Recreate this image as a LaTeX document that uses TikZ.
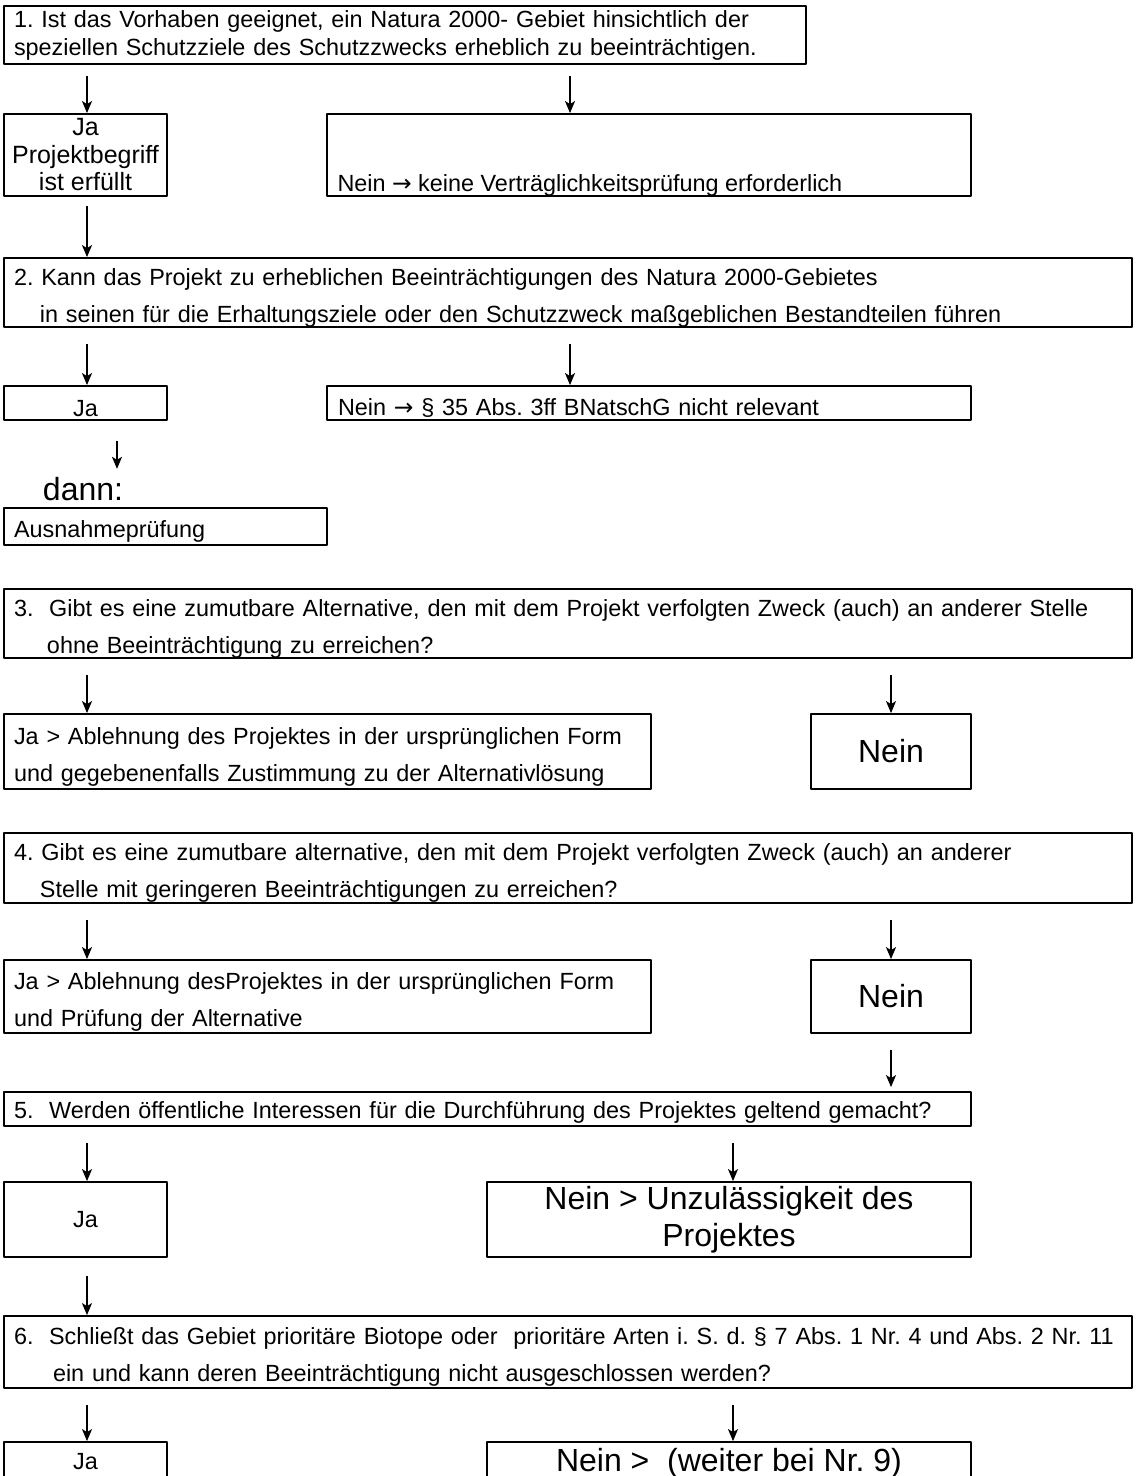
\documentclass[tikz,border=0pt]{standalone}
\usepackage{fontspec}
\setmainfont{Liberation Sans}
\newfontfamily\symfont{DejaVu Sans}
\usetikzlibrary{arrows.meta}
\newcommand{\pfeil}{{\symfont →}}
\newcommand{\oben}{\rule{0pt}{13.5pt}}
\frenchspacing
\begin{document}
\begin{tikzpicture}[>={Stealth[length=6pt,width=5pt,inset=1.5pt]}, x=0.5pt, y=-0.5pt, line join=round,
 font=\fontsize{11.7}{18.5}\selectfont,
 box/.style={draw, line width=0.9pt, inner sep=0pt, inner xsep=5pt},
 big/.style={font=\fontsize{16}{18.5}\selectfont},
 arr/.style={->, line width=0.8pt, shorten <=8pt}]
 \useasboundingbox (0,0) rectangle (1140,1476);
 \clip (0,0) rectangle (1140,1476);
 % x-Lagen der Pfeile
 \coordinate (xl) at (87,0);
 \coordinate (xr) at (570,0);
 \coordinate (xd) at (117,0);
 \coordinate (xm) at (733,0);
 % Frage 1
 \node[box, minimum width=401pt, minimum height=29pt, text width=391pt, align=left,
  font=\fontsize{11.7}{14}\selectfont] (q1) at (405,35)
  {1. Ist das Vorhaben geeignet, ein Natura 2000- Gebiet hinsichtlich der\\
   speziellen Schutzziele des Schutzzwecks erheblich zu beeinträchtigen.};
 \node[box, minimum width=81.5pt, minimum height=41pt, align=center, inner xsep=2pt,
  font=\fontsize{12.5}{13.75}\selectfont] (ja1) at (85.5,155) {Ja\\ Projektbegriff\\ ist erfüllt};
 \node[box, minimum width=322pt, minimum height=41pt] (nein1) at (649,155) {};
 \node[anchor=south west, inner sep=0pt, xshift=5.5pt] (nein1t) at (nein1.south west)
  {Nein \pfeil\ keine Verträglichkeitsprüfung erforderlich};
 % Frage 2
 \node[box, minimum width=564pt, minimum height=34.5pt, text width=554pt, align=left] (q2) at (568,292.5)
  {\oben 2. Kann das Projekt zu erheblichen Beeinträchtigungen des Natura 2000-Gebietes\\
   \hspace*{13pt}in seinen für die Erhaltungsziele oder den Schutzzweck maßgeblichen Bestandteilen führen};
 \node[box, minimum width=81.5pt, minimum height=17pt] (ja2) at (85.5,403) {\oben Ja};
 \node[box, minimum width=322pt, minimum height=17pt, text width=311pt, align=left,
  inner xsep=5.5pt] (nein2) at (649,403) {\oben Nein \pfeil\ § 35 Abs. 3ff BNatschG nicht relevant};
 \node[big, inner sep=0pt] (dann) at (83,489) {dann:};
 \node[box, minimum width=161.5pt, minimum height=18.5pt, text width=151.5pt, align=left] (ausn) at (165.5,526.5)
  {\oben Ausnahmeprüfung};
 % Frage 3
 \node[box, minimum width=564pt, minimum height=33.5pt, text width=554pt, align=left] (q3) at (568,623.5)
  {\oben\mbox{3.\ \ Gibt es eine zumutbare Alternative, den mit dem Projekt verfolgten Zweck (auch) an anderer Stelle}\\
   \hspace*{16.5pt}ohne Beeinträchtigung zu erreichen?};
 \node[box, minimum width=323.5pt, minimum height=37.5pt, text width=313.5pt, align=left] (ja3) at (327.5,751.5)
  {\oben Ja > Ablehnung des Projektes in der ursprünglichen Form\\
   und gegebenenfalls Zustimmung zu der Alternativlösung};
 \node[box, big, minimum width=80pt, minimum height=37.5pt] (nein3) at (891,751.5) {Nein};
 % Frage 4
 \node[box, minimum width=564pt, minimum height=35pt, text width=554pt, align=left] (q4) at (568,868)
  {\oben 4. Gibt es eine zumutbare alternative, den mit dem Projekt verfolgten Zweck (auch) an anderer\\
   \hspace*{13pt}Stelle mit geringeren Beeinträchtigungen zu erreichen?};
 \node[box, minimum width=323.5pt, minimum height=36.5pt, text width=313.5pt, align=left] (ja4) at (327.5,996.5)
  {\oben Ja > Ablehnung desProjektes in der ursprünglichen Form\\
   und Prüfung der Alternative};
 \node[box, big, minimum width=80pt, minimum height=36.5pt] (nein4) at (891,996.5) {Nein};
 % Frage 5
 \node[box, minimum width=483.5pt, minimum height=17pt, text width=473.5pt, align=left] (q5) at (487.5,1109)
  {\rule{0pt}{11.5pt}5.\ \ Werden öffentliche Interessen für die Durchführung des Projektes geltend gemacht?};
 \node[box, minimum width=81.5pt, minimum height=37.5pt] (ja5) at (85.5,1219.5) {Ja};
 \node[box, big, minimum width=242pt, minimum height=37.5pt, align=center] (nein5) at (729,1219.5)
  {Nein > Unzulässigkeit des\\ Projektes};
 % Frage 6
 \node[box, minimum width=564pt, minimum height=36pt, text width=554pt, align=left] (q6) at (568,1352)
  {\oben\mbox{6.\ \ Schließt das Gebiet prioritäre Biotope oder\ \ prioritäre Arten i. S. d. § 7 Abs. 1 Nr. 4 und Abs. 2 Nr. 11}\\
   \hspace*{19.5pt}ein und kann deren Beeinträchtigung nicht ausgeschlossen werden?};
 \node[box, minimum width=81.5pt, minimum height=20pt] (ja6) at (85.5,1462) {Ja};
 \node[box, big, minimum width=242pt, minimum height=20pt] (nein6) at (729,1462) {\rule{0pt}{13pt}Nein >\ \ (weiter bei Nr. 9)};
 % Pfeile
 \draw[arr, shorten <=5.5pt] (q1.south -| xl) -- (ja1.north -| xl);
 \draw[arr, shorten <=5.5pt] (q1.south -| xr) -- (nein1.north -| xr);
 \draw[arr, shorten <=4.5pt] (ja1.south -| xl) -- (q2.north -| xl);
 \draw[arr] (q2.south -| xl) -- (ja2.north -| xl);
 \draw[arr] (q2.south -| xr) -- (nein2.north -| xr);
 \draw[arr, shorten <=10pt, shorten >=4pt] (ja2.south -| xd) -- (dann.north -| xd);
 \draw[arr] (q3.south -| xl) -- (ja3.north -| xl);
 \draw[arr] (q3.south -| nein3.north) -- (nein3.north);
 \draw[arr] (q4.south -| xl) -- (ja4.north -| xl);
 \draw[arr] (q4.south -| nein4.north) -- (nein4.north);
 \draw[arr, shorten >=2pt] (nein4.south) -- (q5.north -| nein4.south);
 \draw[arr] (q5.south -| xl) -- (ja5.north -| xl);
 \draw[arr] (q5.south -| xm) -- (nein5.north -| xm);
 \draw[arr, shorten <=9pt] (ja5.south -| xl) -- (q6.north -| xl);
 \draw[arr] (q6.south -| xl) -- (ja6.north -| xl);
 \draw[arr] (q6.south -| xm) -- (nein6.north -| xm);
\end{tikzpicture}
\end{document}
